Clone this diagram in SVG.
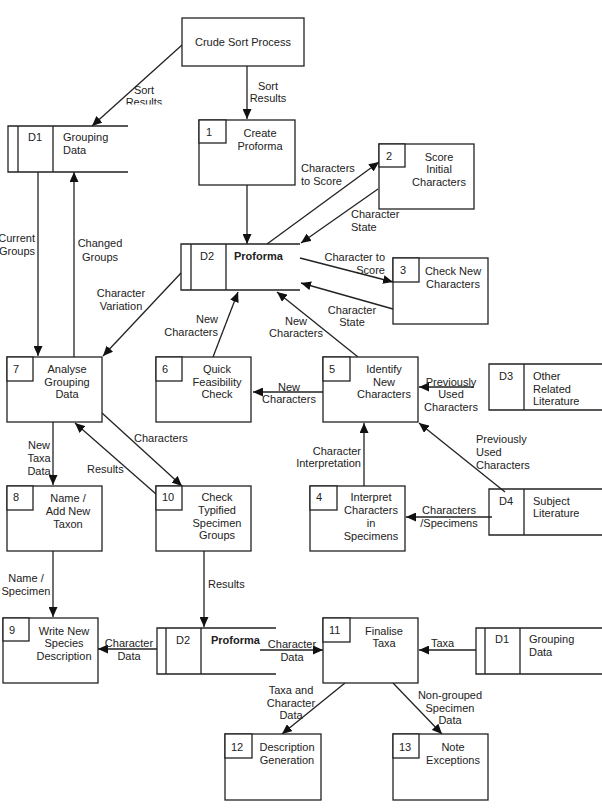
<svg xmlns="http://www.w3.org/2000/svg" width="602" height="812" viewBox="0 0 602 812">
<style>
text{font-family:"Liberation Sans",Arial,sans-serif;font-size:11px;fill:#222}
.c{text-anchor:middle}
.r{text-anchor:end}
.b{font-weight:bold}
.bx{fill:#fff;stroke:#222;stroke-width:1.3}
.st{fill:none;stroke:#222;stroke-width:1.3}
.cn line{stroke:#222;stroke-width:1.3;marker-end:url(#ah)}
</style>
<defs>
<marker id="ah" markerUnits="userSpaceOnUse" markerWidth="11" markerHeight="9" refX="10" refY="4.5" orient="auto"><path d="M0,0 L10,4.5 L0,9 z" fill="#111"/></marker>
<clipPath id="clipSR"><rect x="100" y="70" width="100" height="34.5"/></clipPath>
</defs>
<rect width="602" height="812" fill="#fff"/>

<g id="connectors" class="cn">
<line x1="182" y1="45" x2="92" y2="126"/>
<line x1="247" y1="66" x2="247" y2="119"/>
<line x1="247" y1="185" x2="247" y2="244"/>
<line x1="267" y1="244" x2="379" y2="162"/>
<line x1="378" y1="189" x2="301" y2="243"/>
<line x1="300" y1="258" x2="393" y2="282"/>
<line x1="393" y1="309" x2="301" y2="283"/>
<line x1="358" y1="357" x2="277" y2="292"/>
<line x1="213" y1="357" x2="238" y2="292"/>
<line x1="181" y1="273" x2="103" y2="356"/>
<line x1="38" y1="172" x2="38" y2="356"/>
<line x1="74" y1="357" x2="74" y2="172"/>
<line x1="323" y1="392" x2="253" y2="392"/>
<line x1="474" y1="387" x2="419" y2="387"/>
<line x1="505" y1="492" x2="419" y2="423"/>
<line x1="492" y1="517" x2="406" y2="517"/>
<line x1="364" y1="486" x2="364" y2="423"/>
<line x1="53" y1="422" x2="53" y2="485"/>
<line x1="102" y1="413" x2="182" y2="486"/>
<line x1="156" y1="494" x2="75" y2="423"/>
<line x1="53" y1="551" x2="53" y2="617"/>
<line x1="204" y1="551" x2="204" y2="627"/>
<line x1="157" y1="649" x2="98" y2="649"/>
<line x1="260" y1="650" x2="323" y2="650"/>
<line x1="476" y1="650" x2="419" y2="650"/>
<line x1="345" y1="683" x2="282" y2="734"/>
<line x1="393" y1="683" x2="442" y2="734"/>
</g>

<g id="labels">
<g clip-path="url(#clipSR)"><text class="c" x="144" y="94">Sort</text><text class="c" x="144" y="106">Results</text></g>
<text class="c" x="268" y="90">Sort</text><text class="c" x="268" y="102">Results</text>
<text x="301" y="172">Characters</text><text x="301" y="185">to Score</text>
<text x="351" y="218">Character</text><text x="351" y="231">State</text>
<text class="r" x="385" y="261">Character to</text><text class="r" x="385" y="274">Score</text>
<text class="c" x="352" y="314">Character</text><text class="c" x="352" y="326">State</text>
<text class="c" x="296" y="325">New</text><text class="c" x="296" y="337">Characters</text>
<text class="r" x="218" y="323">New</text><text class="r" x="218" y="336">Characters</text>
<text class="c" x="121" y="297">Character</text><text class="c" x="121" y="310">Variation</text>
<text class="r" x="35" y="242">Current</text><text class="r" x="35" y="255">Groups</text>
<text class="c" x="100" y="247">Changed</text><text class="c" x="100" y="261">Groups</text>
<text class="c" x="289" y="391">New</text><text class="c" x="289" y="403">Characters</text>
<text class="c" x="451" y="386">Previously</text><text class="c" x="451" y="398">Used</text><text class="c" x="451" y="411">Characters</text>
<text x="476" y="443">Previously</text><text x="476" y="456">Used</text><text x="476" y="469">Characters</text>
<text class="c" x="449" y="514">Characters</text><text class="c" x="449" y="527">/Specimens</text>
<text class="r" x="361" y="455">Character</text><text class="r" x="361" y="467">Interpretation</text>
<text class="c" x="39" y="449">New</text><text class="c" x="39" y="462">Taxa</text><text class="c" x="39" y="475">Data</text>
<text x="134" y="442">Characters</text>
<text x="87" y="473">Results</text>
<text class="c" x="26" y="582">Name /</text><text class="c" x="26" y="595">Specimen</text>
<text x="208" y="588">Results</text>
<text class="c" x="129" y="647">Character</text><text class="c" x="129" y="660">Data</text>
<text class="c" x="292" y="648">Character</text><text class="c" x="292" y="661">Data</text>
<text x="431" y="647">Taxa</text>
<text class="c" x="291" y="694">Taxa and</text><text class="c" x="291" y="707">Character</text><text class="c" x="291" y="719">Data</text>
<text class="c" x="450" y="699">Non-grouped</text><text class="c" x="450" y="712">Specimen</text><text class="c" x="450" y="724">Data</text>
</g>

<g id="crude-sort"><rect class="bx" x="182" y="18" width="122" height="48"/><text class="c" x="243" y="46">Crude Sort Process</text></g>

<g id="p1"><rect class="bx" x="199" y="120" width="96" height="65"/><rect class="bx" x="199" y="120" width="27" height="23"/><text x="206" y="136">1</text><text class="c" x="260" y="137">Create</text><text class="c" x="260" y="150">Proforma</text></g>
<g id="p2"><rect class="bx" x="379" y="144" width="95" height="65"/><rect class="bx" x="379" y="144" width="26" height="23"/><text x="386" y="160">2</text><text class="c" x="439" y="161">Score</text><text class="c" x="439" y="173">Initial</text><text class="c" x="439" y="186">Characters</text></g>
<g id="p3"><rect class="bx" x="393" y="258" width="95" height="66"/><rect class="bx" x="393" y="258" width="26" height="24"/><text x="400" y="274">3</text><text class="c" x="453" y="275">Check New</text><text class="c" x="453" y="288">Characters</text></g>
<g id="p7"><rect class="bx" x="7" y="357" width="95" height="65"/><rect class="bx" x="7" y="357" width="26" height="24"/><text x="13" y="373">7</text><text class="c" x="67" y="373">Analyse</text><text class="c" x="67" y="386">Grouping</text><text class="c" x="67" y="398">Data</text></g>
<g id="p6"><rect class="bx" x="156" y="357" width="95" height="65"/><rect class="bx" x="156" y="357" width="26" height="24"/><text x="162" y="373">6</text><text class="c" x="217" y="373">Quick</text><text class="c" x="217" y="386">Feasibility</text><text class="c" x="217" y="398">Check</text></g>
<g id="p5"><rect class="bx" x="323" y="357" width="95" height="65"/><rect class="bx" x="323" y="357" width="27" height="24"/><text x="329" y="373">5</text><text class="c" x="384" y="373">Identify</text><text class="c" x="384" y="386">New</text><text class="c" x="384" y="398">Characters</text></g>
<g id="p4"><rect class="bx" x="310" y="486" width="95" height="65"/><rect class="bx" x="310" y="486" width="27" height="24"/><text x="316" y="501">4</text><text class="c" x="371" y="501">Interpret</text><text class="c" x="371" y="514">Characters</text><text class="c" x="371" y="527">in</text><text class="c" x="371" y="540">Specimens</text></g>
<g id="p8"><rect class="bx" x="7" y="486" width="95" height="65"/><rect class="bx" x="7" y="486" width="26" height="24"/><text x="13" y="501">8</text><text class="c" x="68" y="502">Name /</text><text class="c" x="68" y="515">Add New</text><text class="c" x="68" y="528">Taxon</text></g>
<g id="p10"><rect class="bx" x="156" y="486" width="95" height="65"/><rect class="bx" x="156" y="486" width="26" height="24"/><text x="162" y="501">10</text><text class="c" x="217" y="501">Check</text><text class="c" x="217" y="514">Typified</text><text class="c" x="217" y="527">Specimen</text><text class="c" x="217" y="539">Groups</text></g>
<g id="p9"><rect class="bx" x="3" y="618" width="95" height="65"/><rect class="bx" x="3" y="618" width="26" height="23"/><text x="9" y="634">9</text><text class="c" x="64" y="635">Write New</text><text class="c" x="64" y="647">Species</text><text class="c" x="64" y="660">Description</text></g>
<g id="p11"><rect class="bx" x="323" y="618" width="95" height="65"/><rect class="bx" x="323" y="618" width="27" height="24"/><text x="329" y="634">11</text><text class="c" x="384" y="635">Finalise</text><text class="c" x="384" y="647">Taxa</text></g>
<g id="p12"><rect class="bx" x="225" y="734" width="96" height="66"/><rect class="bx" x="225" y="734" width="27" height="24"/><text x="231" y="751">12</text><text class="c" x="287" y="751">Description</text><text class="c" x="287" y="764">Generation</text></g>
<g id="p13"><rect class="bx" x="393" y="734" width="95" height="66"/><rect class="bx" x="393" y="734" width="26" height="24"/><text x="399" y="751">13</text><text class="c" x="453" y="751">Note</text><text class="c" x="453" y="764">Exceptions</text></g>

<g id="d1-top"><path class="st" d="M128,126 H8 V172 H128 M18,126 V172 M53,126 V172"/><text x="28" y="141">D1</text><text x="63" y="141">Grouping</text><text x="63" y="154">Data</text></g>
<g id="d2-top"><path class="st" d="M300,244 H181 V290 H300 M191,244 V290 M226,244 V290"/><text x="200" y="260">D2</text><text class="b" x="234" y="260">Proforma</text></g>
<g id="d3"><path class="st" d="M602,364 H489 V410 H602 M524,364 V410"/><text x="499" y="380">D3</text><text x="533" y="380">Other</text><text x="533" y="393">Related</text><text x="533" y="405">Literature</text></g>
<g id="d4"><path class="st" d="M602,489 H489 V535 H602 M524,489 V535"/><text x="499" y="505">D4</text><text x="533" y="505">Subject</text><text x="533" y="517">Literature</text></g>
<g id="d2-bottom"><path class="st" d="M276,628 H157 V674 H276 M166,628 V674 M201,628 V674"/><text x="176" y="644">D2</text><text class="b" x="211" y="644">Proforma</text></g>
<g id="d1-bottom"><path class="st" d="M602,628 H476 V674 H602 M485,628 V674 M520,628 V674"/><text x="495" y="643">D1</text><text x="529" y="643">Grouping</text><text x="529" y="656">Data</text></g>
</svg>
